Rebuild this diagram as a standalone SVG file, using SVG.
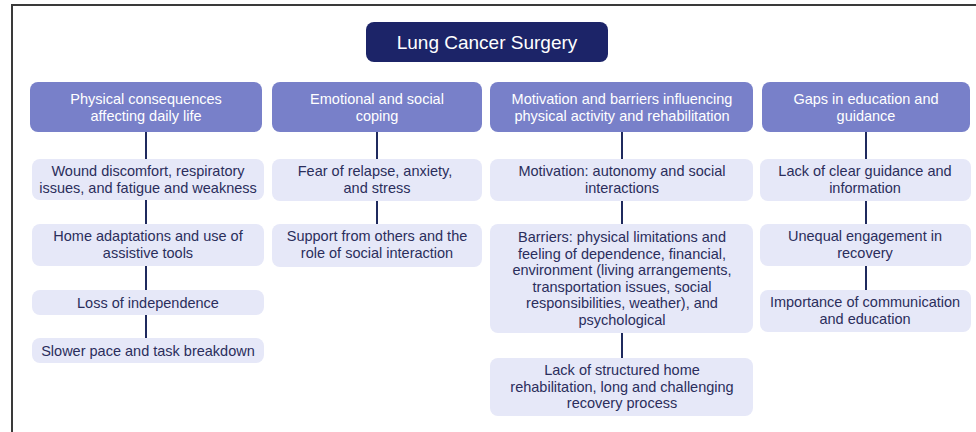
<svg xmlns="http://www.w3.org/2000/svg" width="976" height="432" viewBox="0 0 976 432">
<style>
.frame{stroke:#3a3a3a;stroke-width:2;fill:none}
.root rect{fill:#1c2468}
.root text{fill:#ffffff;font-family:"Liberation Sans",Arial,sans-serif;font-size:19px;text-anchor:middle}
.cat rect{fill:#7880c9}
.cat text{fill:#ffffff;font-family:"Liberation Sans",Arial,sans-serif;font-size:14.5px;text-anchor:middle}
.item rect{fill:#e6e8f8}
.item text{fill:#2b2e5c;font-family:"Liberation Sans",Arial,sans-serif;font-size:14.5px;text-anchor:middle}
#connectors line{stroke:#1f2a5e;stroke-width:2}
</style>
<rect width="976" height="432" fill="#ffffff"/>
<path class="frame" d="M12 432 V5 H976"/>

<g id="root" class="root">
<rect x="366" y="22" width="242" height="40" rx="8"/>
<text x="487" y="49">Lung Cancer Surgery</text>
</g>

<g id="connectors">
<line x1="146" y1="132" x2="146" y2="159"/>
<line x1="146" y1="200" x2="146" y2="224"/>
<line x1="146" y1="266" x2="146" y2="290"/>
<line x1="146" y1="315" x2="146" y2="338"/>
<line x1="377" y1="132" x2="377" y2="159"/>
<line x1="377" y1="201" x2="377" y2="224"/>
<line x1="622" y1="132" x2="622" y2="159"/>
<line x1="622" y1="201" x2="622" y2="224"/>
<line x1="622" y1="333" x2="622" y2="358"/>
<line x1="866" y1="132" x2="866" y2="159"/>
<line x1="866" y1="201" x2="866" y2="224"/>
<line x1="866" y1="266" x2="866" y2="290"/>
</g>

<g id="cat1" class="cat">
<rect x="30" y="82" width="232" height="50" rx="8"/>
<text x="146" y="104">Physical consequences</text>
<text x="146" y="120.5">affecting daily life</text>
</g>
<g id="cat2" class="cat">
<rect x="272" y="82" width="210" height="50" rx="8"/>
<text x="377" y="104">Emotional and social</text>
<text x="377" y="120.5">coping</text>
</g>
<g id="cat3" class="cat">
<rect x="490" y="82" width="263" height="50" rx="8"/>
<text x="622" y="104">Motivation and barriers influencing</text>
<text x="622" y="120.5">physical activity and rehabilitation</text>
</g>
<g id="cat4" class="cat">
<rect x="762" y="82" width="208" height="50" rx="8"/>
<text x="866" y="104">Gaps in education and</text>
<text x="866" y="120.5">guidance</text>
</g>

<g id="item1a" class="item">
<rect x="32" y="159" width="232" height="41" rx="8"/>
<text x="148" y="176">Wound discomfort, respiratory</text>
<text x="148" y="192.5">issues, and fatigue and weakness</text>
</g>
<g id="item1b" class="item">
<rect x="32" y="224" width="232" height="42" rx="8"/>
<text x="148" y="241">Home adaptations and use of</text>
<text x="148" y="257.5">assistive tools</text>
</g>
<g id="item1c" class="item">
<rect x="32" y="290" width="232" height="25" rx="8"/>
<text x="148" y="307.5">Loss of independence</text>
</g>
<g id="item1d" class="item">
<rect x="32" y="338" width="232" height="25" rx="8"/>
<text x="148" y="355.5">Slower pace and task breakdown</text>
</g>

<g id="item2a" class="item">
<rect x="272" y="159" width="210" height="42" rx="8"/>
<text x="375" y="176">Fear of relapse, anxiety,</text>
<text x="377" y="192.5">and stress</text>
</g>
<g id="item2b" class="item">
<rect x="272" y="224" width="210" height="43" rx="8"/>
<text x="377" y="241">Support from others and the</text>
<text x="377" y="257.5">role of social interaction</text>
</g>

<g id="item3a" class="item">
<rect x="490" y="159" width="263" height="42" rx="8"/>
<text x="622" y="176">Motivation: autonomy and social</text>
<text x="622" y="192.5">interactions</text>
</g>
<g id="item3b" class="item">
<rect x="490" y="224" width="263" height="109" rx="8"/>
<text x="622" y="242">Barriers: physical limitations and</text>
<text x="622" y="258.5">feeling of dependence, financial,</text>
<text x="622" y="275">environment (living arrangements,</text>
<text x="622" y="291.5">transportation issues, social</text>
<text x="622" y="308">responsibilities, weather), and</text>
<text x="622" y="324.5">psychological</text>
</g>
<g id="item3c" class="item">
<rect x="490" y="358" width="263" height="58" rx="8"/>
<text x="622" y="375">Lack of structured home</text>
<text x="622" y="391.5">rehabilitation, long and challenging</text>
<text x="622" y="408">recovery process</text>
</g>

<g id="item4a" class="item">
<rect x="760" y="159" width="211" height="42" rx="8"/>
<text x="865" y="176">Lack of clear guidance and</text>
<text x="865" y="192.5">information</text>
</g>
<g id="item4b" class="item">
<rect x="760" y="224" width="211" height="42" rx="8"/>
<text x="865" y="241">Unequal engagement in</text>
<text x="865" y="257.5">recovery</text>
</g>
<g id="item4c" class="item">
<rect x="760" y="290" width="211" height="42" rx="8"/>
<text x="865" y="307">Importance of communication</text>
<text x="865" y="323.5">and education</text>
</g>
</svg>
